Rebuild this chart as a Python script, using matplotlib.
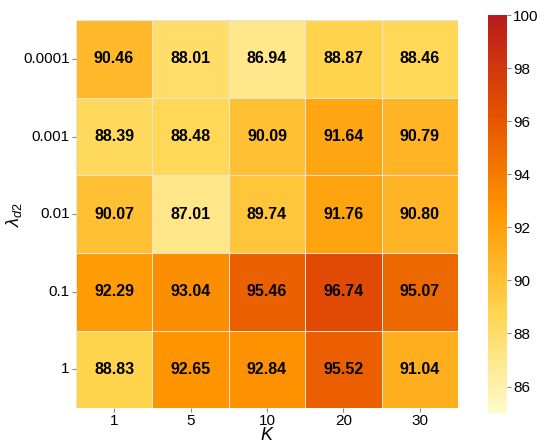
import numpy as np
import matplotlib
matplotlib.use("Agg")
import matplotlib.pyplot as plt
import seaborn as sns
from matplotlib.colors import LinearSegmentedColormap

# data
k_labels = ["1", "5", "10", "20", "30"]
lambda_labels = ["0.0001", "0.001", "0.01", "0.1", "1"]
row_0001 = [90.46, 88.01, 86.94, 88.87, 88.46]
row_001 = [88.39, 88.48, 90.09, 91.64, 90.79]
row_01 = [90.07, 87.01, 89.74, 91.76, 90.80]
row_1 = [92.29, 93.04, 95.46, 96.74, 95.07]
row_10 = [88.83, 92.65, 92.84, 95.52, 91.04]

acc = np.array([row_0001, row_001, row_01, row_1, row_10])

plt.rcParams["font.family"] = ["Liberation Sans", "DejaVu Sans"]
plt.rcParams["mathtext.fontset"] = "custom"
plt.rcParams["mathtext.it"] = "Liberation Sans:italic"
plt.rcParams["mathtext.rm"] = "Liberation Sans"

cmap = LinearSegmentedColormap.from_list(
    "yor",
    [(0.0, "#fffbcc"), (0.25, "#ffd54f"), (0.5, "#ff9800"),
     (0.75, "#e65100"), (1.0, "#b71c1c")])

fig = plt.figure(figsize=(5.5, 4.48), dpi=100)
ax = fig.add_axes([0.138, 0.089, 0.695, 0.866])
cax = fig.add_axes([0.887, 0.078, 0.035, 0.888])

sns.heatmap(acc, ax=ax, cbar_ax=cax, cmap=cmap, vmin=85, vmax=100,
            annot=True, fmt=".2f", linewidths=0.7, linecolor="#e8e4da",
            annot_kws={"fontsize": 11.5, "fontweight": "bold", "color": "black"},
            xticklabels=k_labels, yticklabels=lambda_labels)

ax.set_xlabel("$K$", fontsize=13)
ax.set_ylabel(r"$\lambda_{d2}$", fontsize=13)
ax.xaxis.set_label_coords(0.5, -0.048)
ax.yaxis.set_label_coords(-0.135, 0.5)
ax.tick_params(axis="both", labelsize=11, length=3, pad=1.5,
               color="#888888", width=0.8)
plt.setp(ax.get_yticklabels(), rotation=0)

cbar = ax.collections[0].colorbar
cbar.set_ticks(np.arange(86, 101, 2))
cbar.outline.set_visible(False)
cax.tick_params(labelsize=11, length=3, pad=1.5, color="#888888", width=0.8)

fig.savefig("out.png", dpi=100)
